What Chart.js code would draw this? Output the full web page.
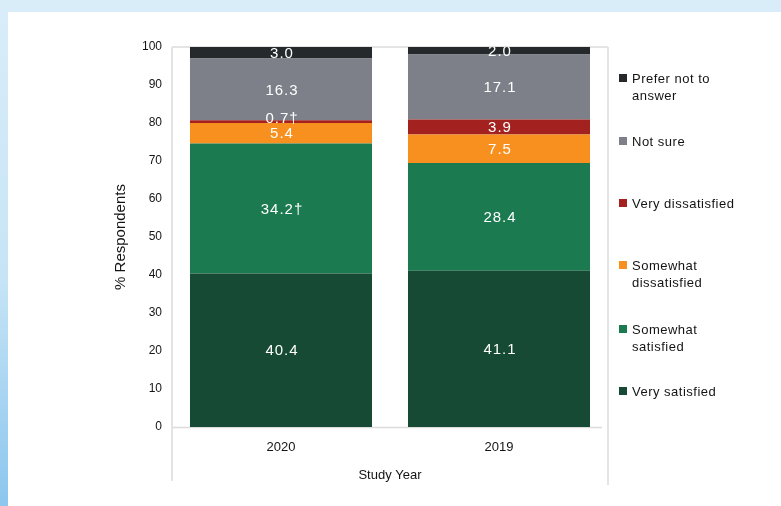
<!DOCTYPE html>
<html><head><meta charset="utf-8">
<script src="https://cdn.jsdelivr.net/npm/chart.js@4/dist/chart.umd.min.js"></script>
<style>
html,body{margin:0;padding:0;width:781px;height:506px;overflow:hidden;}
body{background:linear-gradient(to bottom,#d9edf9 0%,#c6e4f6 55%,#8cc6ee 100%);position:relative;}
#paper{position:absolute;left:8px;top:12px;right:0;bottom:0;background:#fff;}
#wrap{position:absolute;left:0;top:0;width:781px;height:506px;}
</style></head><body><div id="paper"></div><div id="wrap"><canvas id="c" width="781" height="506"></canvas></div>
<script>
// ---- data ----
const years = ["2020", "2019"];
const seriesNames = ["Very satisfied", "Somewhat satisfied", "Somewhat dissatisfied", "Very dissatisfied", "Not sure", "Prefer not to answer"];
const legendLines = [["Very satisfied"], ["Somewhat", "satisfied"], ["Somewhat", "dissatisfied"], ["Very dissatisfied"], ["Not sure"], ["Prefer not to", "answer"]];
const verySatisfied = [40.4, 41.1];
const somewhatSatisfied = [34.2, 28.4];
const somewhatDissatisfied = [5.4, 7.5];
const veryDissatisfied = [0.7, 3.9];
const notSure = [16.3, 17.1];
const preferNot = [3.0, 2.0];
const daggerVS = [false, false];
const daggerSS = [true, false];
const daggerSD = [false, false];
const daggerVD = [true, false];
const daggerNS = [false, false];
const daggerPN = [false, false];
const yMin = 0, yMax = 100, yStep = 10;
const axisTitleY = "% Respondents";
const axisTitleX = "Study Year";

// ---- styles ----
const colors = ["#174a35", "#1b7a50", "#f7901e", "#a3221f", "#7d8088", "#25292c"];
const FONT = "'Liberation Sans', Arial, sans-serif";
const legendCenters = [391, 337.5, 273.5, 203, 141, 86.5]; // by series index

const seriesValues = [verySatisfied, somewhatSatisfied, somewhatDissatisfied, veryDissatisfied, notSure, preferNot];
const seriesDaggers = [daggerVS, daggerSS, daggerSD, daggerVD, daggerNS, daggerPN];

const datasets = seriesNames.map((n, i) => ({
  label: n,
  data: seriesValues[i],
  backgroundColor: colors[i],
  borderWidth: 0,
  categoryPercentage: 1,
  barPercentage: 0.835
}));

const labelPlugin = {
  id: 'labels',
  afterDatasetsDraw(chart) {
    const ctx = chart.ctx, ca = chart.chartArea;
    ctx.save();
    ctx.beginPath();
    ctx.rect(ca.left, ca.top, ca.right - ca.left, ca.bottom - ca.top);
    ctx.clip();
    ctx.fillStyle = '#ffffff';
    ctx.font = '15px ' + FONT;
    ctx.letterSpacing = '1px';
    ctx.textAlign = 'center';
    ctx.textBaseline = 'middle';
    chart.data.datasets.forEach((ds, di) => {
      const meta = chart.getDatasetMeta(di);
      meta.data.forEach((el, j) => {
        const v = ds.data[j];
        let y = (el.y + el.base) / 2;
        const h = Math.abs(el.base - el.y);
        if (h < 6) y -= 4;
        const txt = v.toFixed(1) + (seriesDaggers[di][j] ? '\u2020' : '');
        ctx.fillText(txt, el.x + 1, y + 1);
      });
    });
    ctx.restore();
  }
};

const framePlugin = {
  id: 'frame',
  beforeDatasetsDraw(chart) {
    const ctx = chart.ctx, ca = chart.chartArea;
    ctx.save();
    ctx.strokeStyle = '#e4e4e4';
    ctx.lineWidth = 2;
    ctx.beginPath();
    ctx.moveTo(ca.left, ca.top); ctx.lineTo(ca.left, ca.bottom + 54);
    ctx.moveTo(ca.left, ca.top); ctx.lineTo(ca.right, ca.top);
    ctx.moveTo(ca.right, ca.top); ctx.lineTo(ca.right, ca.bottom + 58);
    ctx.stroke();
    ctx.strokeStyle = '#dcdcdc';
    ctx.lineWidth = 1.5;
    ctx.beginPath();
    ctx.moveTo(ca.left, ca.bottom + 0.5); ctx.lineTo(ca.right - 6, ca.bottom + 0.5);
    ctx.stroke();
    ctx.restore();
  }
};

const legendPlugin = {
  id: 'customLegend',
  afterDraw(chart) {
    const ctx = chart.ctx;
    ctx.save();
    ctx.font = '13px ' + FONT;
    ctx.letterSpacing = '0.5px';
    ctx.textBaseline = 'middle';
    ctx.textAlign = 'left';
    seriesNames.forEach((name, i) => {
      const lines = legendLines[i];
      const cy = legendCenters[i];
      const y0 = cy - (lines.length - 1) * 17 / 2;
      ctx.fillStyle = colors[i];
      ctx.fillRect(619, y0 - 4, 8, 8);
      ctx.fillStyle = '#141414';
      lines.forEach((ln, li) => ctx.fillText(ln, 632, y0 + li * 17 + 1));
    });
    ctx.restore();
  }
};

new Chart(document.getElementById('c'), {
  type: 'bar',
  data: { labels: years, datasets },
  options: {
    responsive: false,
    animation: false,
    layout: { padding: { left: 108, right: 173, top: 47, bottom: 19 } },
    plugins: { legend: { display: false }, tooltip: { enabled: false } },
    scales: {
      x: {
        stacked: true,
        grid: { display: false, drawTicks: false },
        border: { display: false },
        ticks: { color: '#141414', font: { family: FONT, size: 13 }, padding: 13 },
        title: { display: true, text: axisTitleX, color: '#141414', font: { family: FONT, size: 13 }, padding: { top: 4, bottom: 4 } },
        afterFit(s) { s.height = 60; }
      },
      y: {
        stacked: true,
        min: yMin, max: yMax,
        grid: { display: false, drawTicks: false },
        border: { display: false },
        ticks: { stepSize: yStep, color: '#141414', font: { family: FONT, size: 12 }, padding: 10 },
        title: { display: true, text: axisTitleY, color: '#141414', font: { family: FONT, size: 15 }, padding: { top: 4, bottom: 4 } },
        afterFit(s) { s.width = 64; }
      }
    }
  },
  plugins: [framePlugin, labelPlugin, legendPlugin]
});
</script>
</body></html>
